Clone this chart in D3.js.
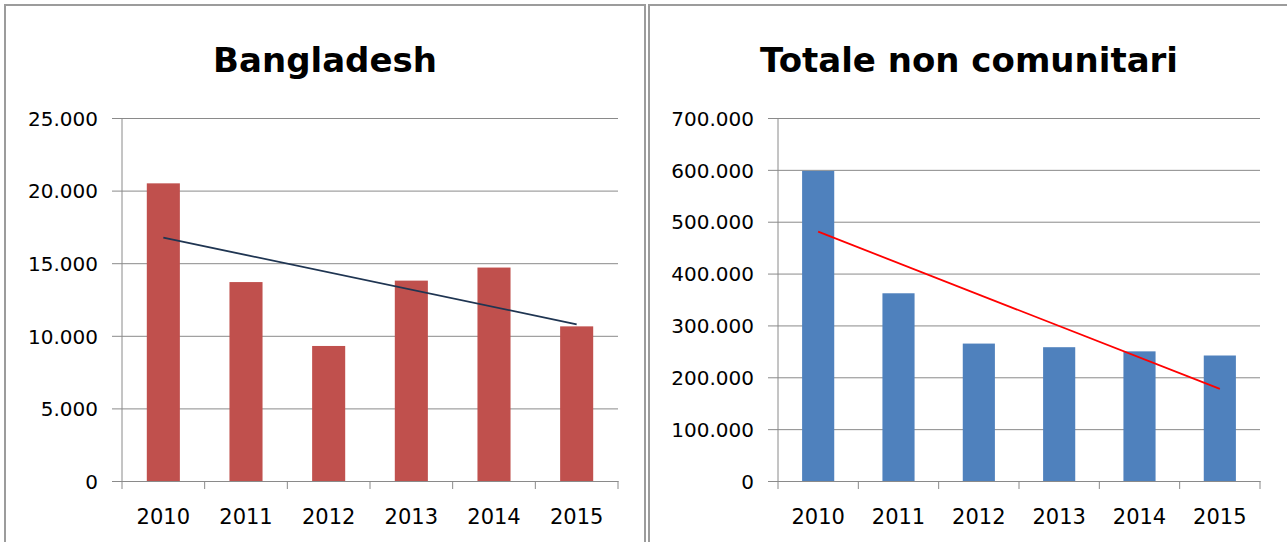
<!DOCTYPE html>
<html>
<head>
<meta charset="utf-8">
<script src="https://cdn.jsdelivr.net/npm/d3@7"></script>
<style>
    body { margin: 0; background: #fff; }
    svg { display: block; }
    text { font-family: "DejaVu Sans", Verdana, sans-serif; fill: #000; }
</style>
</head>
<body>
<svg id="chart" width="1287" height="542"></svg>
<script>
var years = ["2010", "2011", "2012", "2013", "2014", "2015"]
var bangladesh = [20500, 13700, 9300, 13800, 14700, 10650]
var totaleNonComunitari = [598000, 362000, 265000, 258000, 250000, 242000]
var bangladeshTicks = [0, 5000, 10000, 15000, 20000, 25000]
var totaleTicks = [0, 100000, 200000, 300000, 400000, 500000, 600000, 700000]

var it = d3.formatLocale({ decimal: ",", thousands: ".", grouping: [3], currency: ["€", ""] })
var fmt = it.format(",d")

var svg = d3.select("#chart")

// panel frames
svg.append("rect").attr("x", 5).attr("y", 5).attr("width", 640).attr("height", 560)
    .attr("fill", "none").attr("stroke", "#9c9c9c").attr("stroke-width", 2)
svg.append("rect").attr("x", 649).attr("y", 5).attr("width", 660).attr("height", 560)
    .attr("fill", "none").attr("stroke", "#9c9c9c").attr("stroke-width", 2)

drawChart({ title: "Bangladesh", cx: 325, left: 122, right: 618, values: bangladesh,
            ticks: bangladeshTicks, barColor: "#c0504d", trendColor: "#1f3552" })
drawChart({ title: "Totale non comunitari", cx: 969, left: 778, right: 1260, values: totaleNonComunitari,
            ticks: totaleTicks, barColor: "#4f81bd", trendColor: "#ff0000" })

function drawChart(o) {
    var top = 118, bottom = 481
    var g = svg.append("g")

    var x = d3.scaleBand().domain(years).range([o.left, o.right]).paddingInner(0.6).paddingOuter(0.3)
    var band = d3.scaleBand().domain(years).range([o.left, o.right])
    var y = d3.scaleLinear().domain([0, d3.max(o.ticks)]).range([bottom, top])

    g.append("text")
        .attr("x", o.cx).attr("y", 72)
        .attr("text-anchor", "middle")
        .style("font-size", "34px").style("font-weight", "bold")
        .text(o.title)

    // gridlines + y axis
    var yAxis = g.append("g")
        .attr("transform", "translate(" + o.left + ",0)")
        .call(d3.axisLeft(y).tickValues(o.ticks).tickFormat(fmt)
            .tickSize(-(o.right - o.left)).tickPadding(0))
    yAxis.select(".domain").remove()
    yAxis.selectAll(".tick line").attr("stroke", "#8a8a8a").attr("x1", -10)
    yAxis.selectAll(".tick text")
        .attr("x", -24).attr("dy", "0.36em")
        .style("font-size", "20px").style("font-family", "DejaVu Sans, sans-serif")
    g.append("line")
        .attr("x1", o.left).attr("x2", o.left).attr("y1", top).attr("y2", bottom)
        .attr("stroke", "#8a8a8a")

    // bars
    g.selectAll("rect.bar")
        .data(o.values)
        .enter().append("rect")
        .attr("class", "bar")
        .attr("x", function (d, i) { return x(years[i]) })
        .attr("width", x.bandwidth())
        .attr("y", function (d) { return y(d) })
        .attr("height", function (d) { return bottom - y(d) })
        .attr("fill", o.barColor)

    // x axis
    var xAxis = g.append("g")
        .attr("transform", "translate(0," + bottom + ")")
        .call(d3.axisBottom(band).tickSize(0).tickPadding(0))
    xAxis.select(".domain").attr("stroke", "#8a8a8a")
    xAxis.selectAll(".tick text")
        .attr("y", 43).attr("dy", 0)
        .style("font-size", "21px").style("font-family", "DejaVu Sans, sans-serif")
    var edges = years.map(function (d) { return band(d) }).concat([o.right])
    xAxis.selectAll("line.edge")
        .data(edges)
        .enter().append("line")
        .attr("class", "edge")
        .attr("x1", function (d) { return d }).attr("x2", function (d) { return d })
        .attr("y1", 0).attr("y2", 8)
        .attr("stroke", "#8a8a8a")

    // linear trendline (least squares over the bars)
    var n = o.values.length
    var mx = (n - 1) / 2, my = d3.mean(o.values)
    var sxy = d3.sum(o.values, function (d, i) { return (i - mx) * (d - my) })
    var sxx = d3.sum(o.values, function (d, i) { return (i - mx) * (i - mx) })
    var slope = sxy / sxx
    var trend = [0, n - 1].map(function (i) { return [i, my + slope * (i - mx)] })
    var cx = function (i) { return band(years[i]) + band.bandwidth() / 2 }
    g.append("path")
        .datum(trend)
        .attr("fill", "none")
        .attr("stroke", o.trendColor)
        .attr("stroke-width", 1.8)
        .attr("d", d3.line().x(function (d) { return cx(d[0]) }).y(function (d) { return y(d[1]) }))
}
</script>
</body>
</html>
